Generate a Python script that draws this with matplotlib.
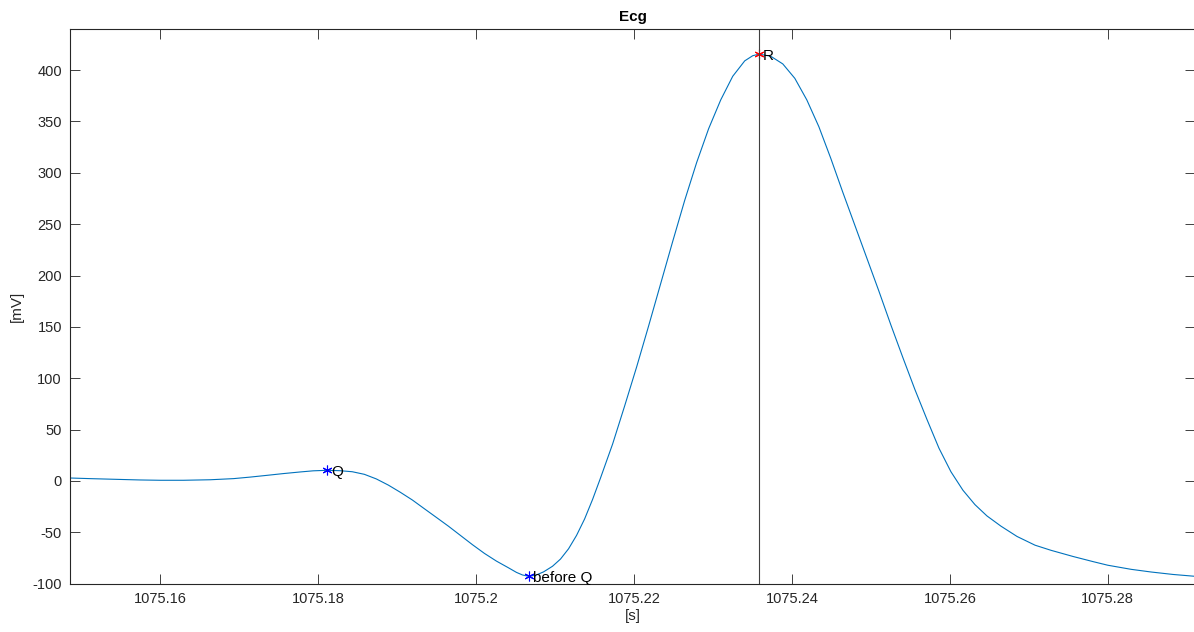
import matplotlib
matplotlib.use("Agg")
import matplotlib.pyplot as plt

# ECG samples around one QRS complex: time [s] and amplitude [mV]
t = [1075.14863, 1075.15113, 1075.15451, 1075.15746, 1075.16000, 1075.16295,
     1075.16634, 1075.16929, 1075.17141, 1075.17353, 1075.17559, 1075.17775,
     1075.17939, 1075.18113, 1075.18282, 1075.18434, 1075.18586, 1075.18738,
     1075.18890, 1075.19042, 1075.19194, 1075.19346, 1075.19499, 1075.19651,
     1075.19803, 1075.19955, 1075.20107, 1075.20259, 1075.20411, 1075.20513,
     1075.20589, 1075.20669, 1075.20754, 1075.20855, 1075.20969, 1075.21070,
     1075.21172, 1075.21273, 1075.21375, 1075.21476, 1075.21577, 1075.21730,
     1075.21882, 1075.22034, 1075.22186, 1075.22338, 1075.22490, 1075.22642,
     1075.22794, 1075.22946, 1075.23099, 1075.23251, 1075.23403, 1075.23504,
     1075.23584, 1075.23732, 1075.23885, 1075.24037, 1075.24189, 1075.24341,
     1075.24493, 1075.24645, 1075.24797, 1075.24949, 1075.25101, 1075.25253,
     1075.25406, 1075.25558, 1075.25710, 1075.25862, 1075.26014, 1075.26166,
     1075.26318, 1075.26470, 1075.26648, 1075.26851, 1075.27079, 1075.27282,
     1075.27561, 1075.27814, 1075.28000, 1075.28296, 1075.28549, 1075.28828,
     1075.29107]
v = [2.9, 2.3, 1.6, 1.0, 0.7, 0.7,
     1.2, 2.3, 3.8, 5.5, 7.2, 8.8,
     9.9, 10.4, 10.0, 9.0, 6.5, 2.0,
     -4.0, -11.0, -18.5, -27.0, -35.5, -44.0,
     -53.0, -62.0, -70.5, -78.0, -84.5, -89.0,
     -91.5, -92.8, -91.8, -88.5, -83.0, -76.0,
     -66.0, -53.0, -37.0, -18.0, 3.0, 36.0,
     73.0, 111.0, 151.0, 192.0, 233.0, 273.0,
     310.0, 343.0, 371.0, 394.0, 409.0, 414.0,
     415.5, 413.5, 406.0, 392.0, 371.0, 345.0,
     314.0, 281.0, 249.0, 217.0, 185.0, 152.0,
     120.0, 89.0, 60.0, 32.0, 9.0, -9.0,
     -23.0, -34.0, -44.0, -54.0, -62.5, -67.5,
     -73.5, -78.5, -82.0, -86.0, -88.6, -91.0,
     -92.8]

# Annotated fiducial points
q_point = (1075.18113, 10.4)
before_q_point = (1075.20669, -92.8)
r_point = (1075.23584, 415.5)

x_ticks = [1075.16, 1075.18, 1075.20, 1075.22, 1075.24, 1075.26, 1075.28]
x_tick_labels = ["1075.16", "1075.18", "1075.2", "1075.22", "1075.24", "1075.26", "1075.28"]
y_ticks = [-100, -50, 0, 50, 100, 150, 200, 250, 300, 350, 400]

plt.rcParams["font.family"] = ["Liberation Sans", "DejaVu Sans"]
plt.rcParams["axes.unicode_minus"] = False

fig = plt.figure(figsize=(11.94, 6.32), dpi=100)
ax = fig.add_axes([0.0589, 0.0764, 1.001 - 0.0589, 0.9541 - 0.0764])

ax.plot(t, v, color="#0072BD", lw=0.8)

asterisk = (6, 2, 0)
ax.plot(*q_point, marker=asterisk, color="blue", ms=7, mew=0.8, ls="none")
ax.plot(*before_q_point, marker=asterisk, color="blue", ms=7, mew=0.8, ls="none")
ax.plot(*r_point, marker=asterisk, color="red", ms=7, mew=0.8, ls="none")

ax.axvline(r_point[0], color="#404040", lw=0.8)

txt = dict(fontsize=11, va="center", ha="left", color="black")
ax.text(q_point[0] + 0.0005, q_point[1] - 2, "Q", **txt)
ax.text(before_q_point[0] + 0.0005, before_q_point[1] - 2, "before Q", **txt)
ax.text(r_point[0] + 0.0005, r_point[1] - 2, "R", **txt)

ax.set_xlim(1075.14863, 1075.29107)
ax.set_ylim(-100, 440)
ax.set_xticks(x_ticks)
ax.set_xticklabels(x_tick_labels)
ax.set_yticks(y_ticks)

ax.tick_params(direction="in", length=7, width=0.7, colors="#404040",
               labelcolor="#262626", labelsize=10.5, top=True, right=True, pad=6)
for s in ax.spines.values():
    s.set_color("#262626")
    s.set_linewidth(0.8)

ax.set_title("Ecg", fontsize=11, fontweight="bold", pad=6)
ax.set_xlabel("[s]", fontsize=11, color="#262626", labelpad=2)
ax.set_ylabel("[mV]", fontsize=11, color="#262626", labelpad=6)

fig.savefig("out.png", dpi=100)
